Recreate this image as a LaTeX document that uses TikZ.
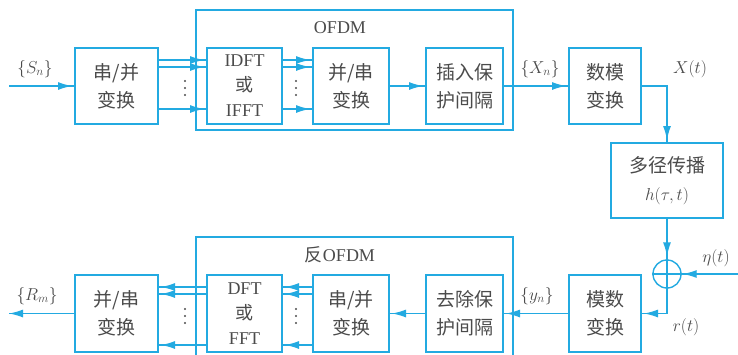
\documentclass[tikz,border=0pt]{standalone}
\usepackage{fontspec}
\setmainfont{Liberation Serif}
\newfontfamily\cjk{Noto Sans CJK SC}
\usetikzlibrary{arrows.meta,calc}
\definecolor{ln}{RGB}{35,170,225}
\definecolor{tx}{RGB}{75,75,75}
\begin{document}
\begin{tikzpicture}[x=1pt,y=-1pt,
  blk/.style={draw=ln, line width=1.4pt, text=tx, align=center, inner sep=0pt, outer sep=0pt,
    font=\fontsize{19}{28}\selectfont, minimum height=76pt},
  tri/.style={font=\fontsize{18}{25}\selectfont},
  wire/.style={draw=ln, line width=1.4pt},
  arr/.style={wire, postaction={draw=ln, line width=1.4pt, -{Latex[length=14pt,width=8pt]}, shorten >=#1}},
  arr/.default=3pt,
  lab/.style={text=tx, font=\fontsize{18}{19}\selectfont, inner sep=0pt},
  ttl/.style={text=tx, font=\fontsize{18}{20}\selectfont, inner sep=0pt},
  dotc/.style={fill=tx, circle, inner sep=0pt, minimum size=2.2pt}]
\useasboundingbox (0,0) rectangle (738,354);
\clip (0,0) rectangle (738,354);
\fill[white] (0,0) rectangle (738,354);
% outer boxes
\draw[wire] (196,10) rectangle (513,130);
\node[ttl] (ofdm) at (340,28) {OFDM};
\draw[wire] (196,237) rectangle (513,380);
\node[ttl] (iofdm) at (340,255) {{\cjk 反}OFDM};
% top row
\node[blk, minimum width=83pt] (sp1) at (116.5,86) {{\cjk 串/并}\\{\cjk 变换}};
\node[blk, tri, minimum width=75pt] (idft) at (244.5,86) {IDFT\\{\cjk 或}\\IFFT};
\node[blk, minimum width=76pt] (ps1) at (351,86) {{\cjk 并/串}\\{\cjk 变换}};
\node[blk, minimum width=77pt] (cp1) at (464.5,86) {{\cjk 插入保}\\{\cjk 护间隔}};
\node[blk, minimum width=72pt] (da) at (605,86) {{\cjk 数模}\\{\cjk 变换}};
\node[blk, minimum width=112pt, minimum height=75pt] (mp) at (667,180.5) {{\cjk 多径传播}\\$h(\tau,t)$};
\node[circle, draw=ln, line width=1.4pt, minimum size=28pt, inner sep=0pt] (sum) at (667,274) {};
\draw[wire] (sum.north) -- (sum.south);
\draw[wire] (sum.west) -- (sum.east);
% bottom row
\node[blk, minimum width=72pt, minimum height=77pt] (ad) at (605,313.5) {{\cjk 模数}\\{\cjk 变换}};
\node[blk, minimum width=77pt, minimum height=77pt] (cp2) at (464.5,313.5) {{\cjk 去除保}\\{\cjk 护间隔}};
\node[blk, minimum width=76pt, minimum height=77pt] (sp2) at (351,313.5) {{\cjk 串/并}\\{\cjk 变换}};
\node[blk, tri, minimum width=75pt, minimum height=77pt] (dft) at (244.5,313.5) {DFT\\{\cjk 或}\\FFT};
\node[blk, minimum width=83pt, minimum height=77pt] (ps2) at (116.5,313.5) {{\cjk 并/串}\\{\cjk 变换}};
% coordinates
\coordinate (in) at (9,86);
\coordinate (out) at (9,313.5);
\coordinate (eta) at (738,274);
% top connectors
\draw[arr] (in) -- (sp1.west);
\foreach \d in {12,19,61} {
  \draw[arr] ($(sp1.north east)+(0,\d)$) -- ($(idft.north west)+(0,\d)$);
  \draw[arr] ($(idft.north east)+(0,\d)$) -- ($(ps1.north west)+(0,\d)$);
}
\foreach \x in {185,296} {
  \foreach \y in {81,88,95} { \node[dotc] at (\x,\y) {}; }
  \foreach \y in {309,316,323} { \node[dotc] at (\x,\y) {}; }
}
\draw[arr] (ps1.east) -- (cp1.west);
\draw[arr] (cp1.east) -- (da.west);
\draw[arr] (da.east) -| (mp.north);
\draw[arr] (mp.south) -- (sum.north);
\draw[arr=1pt] (eta) -- (sum.east);
\draw[arr] (sum.south) |- (ad.east);
% bottom connectors
\draw[arr] (ad.west) -- (cp2.east);
\draw[arr] (cp2.west) -- (sp2.east);
\foreach \d in {12,19,70} {
  \draw[arr] ($(sp2.north west)+(0,\d)$) -- ($(dft.north east)+(0,\d)$);
  \draw[arr] ($(dft.north west)+(0,\d)$) -- ($(ps2.north east)+(0,\d)$);
}
\draw[arr=0pt] (ps2.west) -- (out);
% labels
\node[lab] (lS) at (35,69) {$\{S_n\}$};
\node[lab] (lX) at (540,69) {$\{X_n\}$};
\node[lab] (lXt) at (690,69) {$X(t)$};
\node[lab] (leta) at (716,258) {$\eta(t)$};
\node[lab] (lr) at (686,327) {$r(t)$};
\node[lab] (ly) at (537,296) {$\{y_n\}$};
\node[lab] (lR) at (37,296) {$\{R_m\}$};
\end{tikzpicture}
\end{document}
